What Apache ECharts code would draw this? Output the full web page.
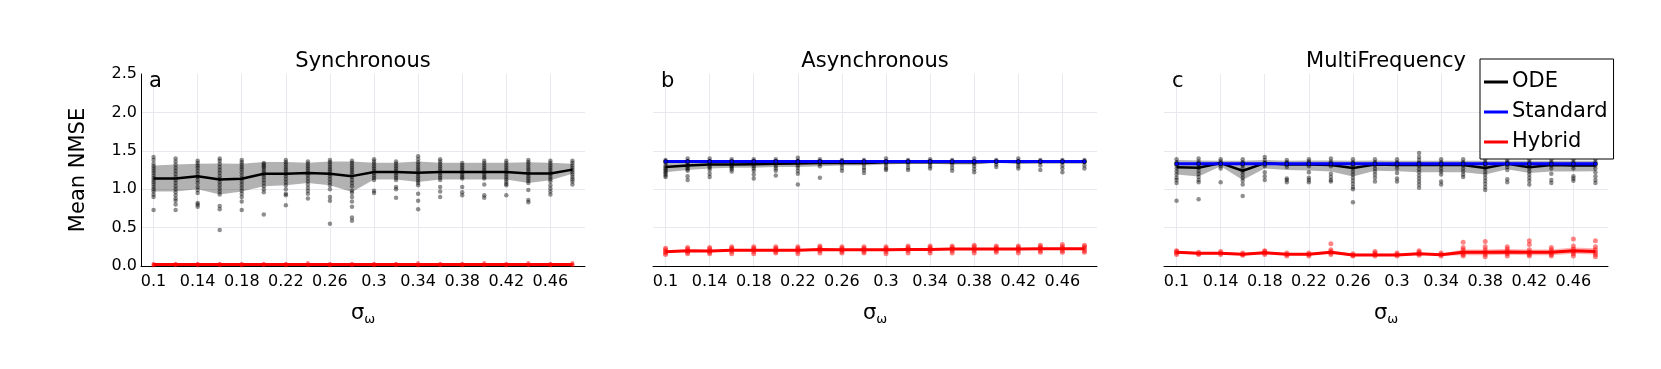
<!DOCTYPE html>
<html>
<head>
<meta charset="utf-8" />
<title>Mean NMSE vs sigma</title>
<script src="https://cdn.jsdelivr.net/npm/echarts@6/dist/echarts.min.js"></script>
<style>
    html, body { margin: 0; padding: 0; background: #fff; }
    #main { width: 1661px; height: 369px; }
</style>
</head>
<body>
<div id="main"></div>
<script>
    // sigma_omega values (x)
    var sigma = [0.1, 0.12, 0.14, 0.16, 0.18, 0.2, 0.22, 0.24, 0.26, 0.28, 0.3, 0.32, 0.34, 0.36, 0.38, 0.4, 0.42, 0.44, 0.46, 0.48];
    var xTicks = [0.1, 0.14, 0.18, 0.22, 0.26, 0.3, 0.34, 0.38, 0.42, 0.46];
    var panelTitles = ['Synchronous', 'Asynchronous', 'MultiFrequency'];
    var panelLetters = ['a', 'b', 'c'];

    // --- a: Synchronous ---
    var syncOdeMean = [1.14, 1.14, 1.17, 1.125, 1.135, 1.2, 1.2, 1.21, 1.2, 1.17, 1.225, 1.225, 1.215, 1.225, 1.225, 1.225, 1.225, 1.205, 1.205, 1.255];
    var syncOdeLow = [0.97, 0.97, 1.0, 0.93, 0.97, 1.04, 1.05, 1.08, 1.05, 0.965, 1.125, 1.125, 1.095, 1.125, 1.125, 1.125, 1.125, 1.08, 1.115, 1.2];
    var syncOdeHigh = [1.31, 1.32, 1.33, 1.335, 1.33, 1.355, 1.355, 1.345, 1.36, 1.36, 1.345, 1.345, 1.36, 1.345, 1.345, 1.345, 1.345, 1.35, 1.345, 1.33];
    var syncOdeSamples = [
        [1.42, 1.38, 1.33, 1.3, 1.27, 1.24, 1.21, 1.18, 1.15, 1.12, 1.09, 1.06, 1.03, 1.0, 0.97, 0.93, 0.9, 0.73],
        [1.4, 1.36, 1.32, 1.28, 1.24, 1.2, 1.16, 1.12, 1.08, 1.04, 1.0, 0.96, 0.92, 0.88, 0.85, 0.8, 0.73],
        [1.37, 1.34, 1.31, 1.28, 1.24, 1.2, 1.16, 1.12, 1.08, 1.03, 0.99, 0.95, 0.82, 0.8, 0.77],
        [1.4, 1.37, 1.33, 1.29, 1.25, 1.21, 1.17, 1.13, 1.09, 1.05, 1.01, 0.97, 0.93, 0.78, 0.74, 0.47],
        [1.38, 1.35, 1.32, 1.29, 1.26, 1.22, 1.18, 1.14, 1.1, 1.06, 1.02, 0.98, 0.94, 0.9, 0.84, 0.73],
        [1.34, 1.32, 1.3, 1.28, 1.25, 1.22, 1.19, 1.16, 1.12, 1.08, 1.04, 1.0, 0.96, 0.67],
        [1.38, 1.35, 1.32, 1.29, 1.26, 1.23, 1.2, 1.17, 1.13, 1.09, 1.05, 1.0, 0.94, 0.92, 0.79],
        [1.36, 1.33, 1.3, 1.27, 1.24, 1.21, 1.18, 1.14, 1.1, 1.06, 1.02, 0.98, 0.94, 0.88],
        [1.38, 1.35, 1.32, 1.29, 1.26, 1.23, 1.2, 1.17, 1.13, 1.09, 1.05, 1.0, 0.9, 0.85, 0.55],
        [1.37, 1.34, 1.31, 1.28, 1.25, 1.22, 1.19, 1.16, 1.12, 1.08, 1.04, 0.98, 0.95, 0.9, 0.84, 0.77, 0.63, 0.59],
        [1.39, 1.36, 1.33, 1.3, 1.27, 1.24, 1.21, 1.18, 1.15, 1.12, 0.98, 0.95],
        [1.36, 1.33, 1.3, 1.27, 1.24, 1.21, 1.18, 1.15, 1.12, 1.03, 1.0, 0.89],
        [1.43, 1.39, 1.35, 1.32, 1.29, 1.26, 1.23, 1.2, 1.17, 1.14, 1.11, 1.08, 1.05, 0.94, 0.85, 0.74],
        [1.39, 1.36, 1.33, 1.3, 1.27, 1.24, 1.21, 1.18, 1.15, 1.12, 1.03, 0.97, 0.9],
        [1.34, 1.31, 1.28, 1.25, 1.22, 1.19, 1.16, 1.14, 1.03, 0.96, 0.92],
        [1.37, 1.34, 1.31, 1.28, 1.25, 1.22, 1.19, 1.16, 1.14, 1.06, 0.92, 0.89],
        [1.37, 1.34, 1.31, 1.28, 1.25, 1.22, 1.19, 1.16, 1.13, 1.1, 1.07, 1.05, 0.92],
        [1.38, 1.35, 1.32, 1.29, 1.26, 1.23, 1.2, 1.17, 1.14, 1.11, 1.08, 0.99, 0.86, 0.83],
        [1.37, 1.34, 1.31, 1.28, 1.25, 1.22, 1.19, 1.16, 1.13, 1.1, 1.05, 1.01, 0.97, 0.93],
        [1.37, 1.34, 1.31, 1.28, 1.25, 1.22, 1.19, 1.16, 1.13, 1.1, 1.06]
    ];
    var syncHybMean = [0.02, 0.02, 0.02, 0.02, 0.02, 0.02, 0.02, 0.02, 0.02, 0.02, 0.02, 0.02, 0.02, 0.02, 0.02, 0.02, 0.02, 0.02, 0.02, 0.02];
    var syncHybSamples = [
        [0.005, 0.015, 0.03], [0.01, 0.02, 0.03], [0.005, 0.02, 0.03], [0.01, 0.02, 0.03], [0.005, 0.015, 0.03],
        [0.01, 0.02, 0.03], [0.005, 0.02, 0.03], [0.01, 0.02, 0.04], [0.005, 0.015, 0.03], [0.01, 0.02, 0.03],
        [0.005, 0.02, 0.03], [0.01, 0.02, 0.03], [0.005, 0.015, 0.04], [0.01, 0.02, 0.03], [0.005, 0.02, 0.03],
        [0.01, 0.02, 0.04], [0.005, 0.015, 0.03], [0.01, 0.02, 0.04], [0.005, 0.02, 0.03], [0.01, 0.02, 0.04]
    ];

    // --- b: Asynchronous ---
    var asyncOdeMean = [1.29, 1.31, 1.32, 1.32, 1.325, 1.33, 1.335, 1.34, 1.34, 1.34, 1.35, 1.35, 1.355, 1.35, 1.35, 1.36, 1.355, 1.355, 1.355, 1.355];
    var asyncOdeLow = [1.22, 1.25, 1.27, 1.28, 1.28, 1.29, 1.29, 1.3, 1.31, 1.31, 1.32, 1.33, 1.33, 1.32, 1.32, 1.34, 1.33, 1.34, 1.34, 1.34];
    var asyncOdeHigh = [1.35, 1.37, 1.37, 1.37, 1.37, 1.37, 1.38, 1.37, 1.37, 1.37, 1.37, 1.37, 1.37, 1.37, 1.38, 1.37, 1.37, 1.37, 1.37, 1.37];
    var asyncOdeSamples = [
        [1.38, 1.33, 1.3, 1.28, 1.26, 1.24, 1.22, 1.2, 1.18, 1.16],
        [1.4, 1.36, 1.33, 1.3, 1.28, 1.26, 1.24, 1.17, 1.12],
        [1.4, 1.36, 1.33, 1.3, 1.28, 1.25, 1.2, 1.16],
        [1.39, 1.35, 1.32, 1.3, 1.28, 1.26, 1.23],
        [1.39, 1.36, 1.33, 1.3, 1.27, 1.24, 1.19, 1.14],
        [1.39, 1.36, 1.33, 1.3, 1.27, 1.24, 1.18],
        [1.41, 1.37, 1.34, 1.31, 1.28, 1.24, 1.2, 1.06],
        [1.39, 1.36, 1.33, 1.3, 1.15],
        [1.38, 1.35, 1.32, 1.28, 1.24],
        [1.38, 1.35, 1.32, 1.28, 1.25, 1.21],
        [1.4, 1.36, 1.33, 1.3, 1.27, 1.25],
        [1.38, 1.35, 1.32, 1.28, 1.25],
        [1.39, 1.36, 1.33, 1.3, 1.27],
        [1.38, 1.35, 1.32, 1.28, 1.24],
        [1.4, 1.36, 1.33, 1.3, 1.26, 1.22],
        [1.38, 1.35, 1.32, 1.29],
        [1.4, 1.36, 1.33, 1.3, 1.27],
        [1.38, 1.35, 1.31, 1.25],
        [1.38, 1.35, 1.31, 1.27, 1.22],
        [1.38, 1.35, 1.31, 1.27]
    ];
    var asyncStdMean = [1.36, 1.36, 1.36, 1.36, 1.36, 1.36, 1.36, 1.36, 1.36, 1.36, 1.36, 1.36, 1.36, 1.36, 1.36, 1.36, 1.36, 1.36, 1.36, 1.36];
    var asyncHybMean = [0.185, 0.2, 0.195, 0.205, 0.205, 0.205, 0.205, 0.215, 0.21, 0.21, 0.21, 0.215, 0.215, 0.22, 0.22, 0.22, 0.22, 0.225, 0.225, 0.225];
    var asyncHybLow = [0.175, 0.19, 0.185, 0.195, 0.195, 0.195, 0.195, 0.205, 0.2, 0.2, 0.2, 0.205, 0.205, 0.21, 0.21, 0.21, 0.21, 0.215, 0.215, 0.215];
    var asyncHybHigh = [0.195, 0.21, 0.205, 0.215, 0.215, 0.215, 0.215, 0.225, 0.22, 0.22, 0.22, 0.225, 0.225, 0.23, 0.23, 0.23, 0.23, 0.235, 0.235, 0.235];
    var asyncHybSamples = [
        [0.15, 0.17, 0.19, 0.21, 0.23], [0.16, 0.18, 0.2, 0.22, 0.24], [0.16, 0.18, 0.2, 0.22, 0.24],
        [0.16, 0.19, 0.21, 0.23, 0.25], [0.16, 0.19, 0.21, 0.23, 0.25], [0.17, 0.19, 0.21, 0.23, 0.25],
        [0.16, 0.19, 0.21, 0.23, 0.25], [0.17, 0.2, 0.22, 0.24, 0.26], [0.17, 0.19, 0.21, 0.23, 0.25],
        [0.17, 0.19, 0.21, 0.23, 0.25], [0.16, 0.19, 0.21, 0.23, 0.25], [0.17, 0.2, 0.22, 0.24, 0.26],
        [0.17, 0.2, 0.22, 0.24, 0.26], [0.17, 0.2, 0.22, 0.24, 0.26], [0.17, 0.2, 0.22, 0.25, 0.27],
        [0.18, 0.2, 0.22, 0.24, 0.26], [0.17, 0.2, 0.22, 0.24, 0.26], [0.18, 0.2, 0.23, 0.25, 0.27],
        [0.18, 0.2, 0.23, 0.25, 0.28], [0.18, 0.2, 0.23, 0.25, 0.27]
    ];

    // --- c: MultiFrequency ---
    var multiOdeMean = [1.285, 1.28, 1.34, 1.24, 1.34, 1.32, 1.32, 1.315, 1.275, 1.32, 1.315, 1.315, 1.315, 1.315, 1.275, 1.33, 1.285, 1.315, 1.31, 1.31];
    var multiOdeLow = [1.19, 1.165, 1.3, 1.12, 1.27, 1.25, 1.245, 1.23, 1.165, 1.24, 1.235, 1.22, 1.22, 1.22, 1.19, 1.26, 1.21, 1.23, 1.23, 1.235];
    var multiOdeHigh = [1.38, 1.375, 1.37, 1.37, 1.38, 1.37, 1.375, 1.375, 1.37, 1.375, 1.37, 1.37, 1.37, 1.37, 1.37, 1.37, 1.37, 1.37, 1.37, 1.37];
    var multiOdeSamples = [
        [1.39, 1.35, 1.31, 1.27, 1.23, 1.19, 1.15, 1.12, 1.08, 0.85],
        [1.4, 1.36, 1.32, 1.28, 1.24, 1.2, 1.16, 1.12, 1.09, 0.87],
        [1.39, 1.36, 1.33, 1.3, 1.27, 1.09],
        [1.39, 1.35, 1.31, 1.27, 1.23, 1.19, 1.15, 1.11, 1.06, 0.91],
        [1.42, 1.38, 1.34, 1.3, 1.22, 1.17, 1.12],
        [1.38, 1.35, 1.32, 1.29, 1.14, 1.12, 1.09],
        [1.39, 1.36, 1.33, 1.3, 1.22, 1.15, 1.12, 1.09],
        [1.4, 1.36, 1.33, 1.3, 1.2, 1.16, 1.12, 1.1],
        [1.39, 1.35, 1.31, 1.27, 1.23, 1.19, 1.15, 1.11, 1.07, 1.03, 1.0, 0.83],
        [1.39, 1.35, 1.31, 1.27, 1.23, 1.19, 1.15, 1.1],
        [1.39, 1.35, 1.31, 1.27, 1.21, 1.14, 1.1],
        [1.47, 1.42, 1.38, 1.34, 1.3, 1.26, 1.22, 1.18, 1.14, 1.1, 1.06, 1.02],
        [1.39, 1.35, 1.31, 1.27, 1.23, 1.19, 1.1, 1.06],
        [1.39, 1.35, 1.31, 1.27, 1.23, 1.19, 1.16],
        [1.39, 1.35, 1.31, 1.27, 1.23, 1.19, 1.15, 1.11, 1.07, 1.03, 0.99],
        [1.38, 1.35, 1.32, 1.29, 1.25, 1.13, 1.09],
        [1.39, 1.35, 1.31, 1.27, 1.23, 1.19, 1.15, 1.11, 1.06],
        [1.39, 1.35, 1.31, 1.27, 1.2, 1.12, 1.08],
        [1.39, 1.35, 1.31, 1.27, 1.17, 1.14, 1.11],
        [1.39, 1.35, 1.31, 1.27, 1.22, 1.17, 1.12, 1.08]
    ];
    var multiStdMean = [1.33, 1.33, 1.33, 1.33, 1.33, 1.33, 1.33, 1.33, 1.33, 1.33, 1.33, 1.33, 1.33, 1.33, 1.33, 1.33, 1.33, 1.33, 1.33, 1.33];
    var multiHybMean = [0.178, 0.165, 0.165, 0.152, 0.174, 0.152, 0.152, 0.178, 0.143, 0.143, 0.143, 0.16, 0.147, 0.178, 0.178, 0.183, 0.178, 0.178, 0.2, 0.19];
    var multiHybLow = [0.16, 0.15, 0.15, 0.14, 0.155, 0.14, 0.14, 0.16, 0.13, 0.13, 0.13, 0.145, 0.135, 0.14, 0.14, 0.145, 0.14, 0.14, 0.16, 0.15];
    var multiHybHigh = [0.195, 0.18, 0.18, 0.165, 0.19, 0.165, 0.165, 0.2, 0.16, 0.16, 0.16, 0.175, 0.16, 0.215, 0.215, 0.22, 0.215, 0.215, 0.24, 0.23];
    var multiHybSamples = [
        [0.15, 0.17, 0.19, 0.2], [0.15, 0.16, 0.18], [0.15, 0.17, 0.19], [0.14, 0.15, 0.17], [0.15, 0.17, 0.19, 0.2],
        [0.13, 0.15, 0.17], [0.13, 0.15, 0.17], [0.15, 0.17, 0.19, 0.21, 0.29], [0.13, 0.14, 0.16], [0.13, 0.15, 0.17, 0.19],
        [0.13, 0.15, 0.17], [0.14, 0.16, 0.18, 0.2], [0.13, 0.15, 0.17], [0.13, 0.15, 0.18, 0.21, 0.24, 0.31],
        [0.12, 0.15, 0.18, 0.21, 0.25, 0.32], [0.13, 0.16, 0.19, 0.22, 0.25], [0.13, 0.15, 0.18, 0.21, 0.28, 0.33],
        [0.13, 0.15, 0.18, 0.21, 0.24], [0.13, 0.16, 0.19, 0.22, 0.26, 0.35], [0.12, 0.15, 0.18, 0.21, 0.25, 0.33]
    ];

    var FONT = 'DejaVu Sans';
    var gridLefts = [141, 653, 1164];
    var gridWidth = 444;

    function pairs(vals) {
        return sigma.map(function (s, i) { return [s, vals[i]]; });
    }
    function samplePairs(samples) {
        var out = [];
        samples.forEach(function (arr, i) {
            arr.forEach(function (v) { out.push([sigma[i], v]); });
        });
        return out;
    }
    function band(idx, low, high, color) {
        return {
            type: 'custom', xAxisIndex: idx, yAxisIndex: idx, silent: true, z: 1,
            data: [[sigma[0], low[0]]],
            renderItem: function (params, api) {
                var top = sigma.map(function (s, i) { return api.coord([s, high[i]]); });
                var bot = sigma.map(function (s, i) { return api.coord([s, low[i]]); }).reverse();
                return { type: 'polygon', shape: { points: top.concat(bot) }, style: { fill: color } };
            }
        };
    }
    function dots(idx, samples, color, size) {
        return {
            type: 'scatter', xAxisIndex: idx, yAxisIndex: idx, silent: true, z: 2,
            data: samplePairs(samples), symbolSize: size,
            itemStyle: { color: color }
        };
    }
    function line(idx, name, vals, color, width, z, marker) {
        return {
            type: 'line', name: name, xAxisIndex: idx, yAxisIndex: idx, z: z,
            data: pairs(vals),
            showSymbol: !!marker, symbol: 'circle', symbolSize: 4,
            color: color,
            itemStyle: marker ? { color: color, borderColor: 'rgba(0,0,0,0.7)', borderWidth: 1 } : { color: color },
            lineStyle: { color: color, width: width }
        };
    }

    var myChart = echarts.init(document.getElementById('main'));

    var grids = [], xAxes = [], yAxes = [], titles = [];
    for (var k = 0; k < 3; k++) {
        grids.push({ left: gridLefts[k], width: gridWidth, top: 74, height: 192 });
        xAxes.push({
            type: 'value', gridIndex: k, min: 0.0886, max: 0.4914,
            name: '{a|σ}{b|ω}', nameLocation: 'middle', nameGap: 36,
            nameTextStyle: {
                rich: {
                    a: { fontFamily: FONT, fontSize: 21, color: '#000', lineHeight: 24, verticalAlign: 'middle' },
                    b: { fontFamily: FONT, fontSize: 13, color: '#000', lineHeight: 14, padding: [10, 0, 0, 0], verticalAlign: 'bottom' }
                }
            },
            axisLine: { show: true, onZero: false, lineStyle: { color: '#000', width: 1 } },
            axisTick: { show: false, customValues: xTicks },
            axisLabel: {
                customValues: xTicks, margin: 8, fontFamily: FONT, fontSize: 16, color: '#000',
                formatter: function (v) { return String(+v.toFixed(2)); }
            },
            splitLine: { show: true, lineStyle: { color: '#e8e8ee', width: 1 } }
        });
        yAxes.push({
            type: 'value', gridIndex: k, min: 0, max: 2.5, interval: 0.5,
            name: k === 0 ? 'Mean NMSE' : '', nameLocation: 'middle', nameGap: 52,
            nameTextStyle: { fontFamily: FONT, fontSize: 21, color: '#000' },
            axisLine: { show: k === 0, lineStyle: { color: '#000', width: 1 } },
            axisTick: { show: false },
            axisLabel: {
                show: k === 0, margin: 4, fontFamily: FONT, fontSize: 16, color: '#000',
                formatter: function (v) { return v.toFixed(1); }
            },
            splitLine: { show: true, showMaxLine: false, lineStyle: { color: '#e8e8ee', width: 1 } }
        });
        titles.push({
            text: panelTitles[k], left: gridLefts[k] + gridWidth / 2, top: 51, textAlign: 'center', padding: 0,
            textStyle: { fontFamily: FONT, fontSize: 21, fontWeight: 'normal', color: '#000' }
        });
        titles.push({
            text: panelLetters[k], left: gridLefts[k] + 8, top: 71, padding: 0,
            textStyle: { fontFamily: FONT, fontSize: 21, fontWeight: 'normal', color: '#000' }
        });
    }

    var GRAY_BAND = 'rgba(0,0,0,0.3)';
    var GRAY_DOT = 'rgba(0,0,0,0.55)';
    var RED_BAND = 'rgba(255,0,0,0.3)';
    var RED_DOT = 'rgba(255,0,0,0.6)';

    var series = [
        // a
        band(0, syncOdeLow, syncOdeHigh, GRAY_BAND),
        dots(0, syncOdeSamples, GRAY_DOT, 4.5),
        line(0, 'ODE', syncOdeMean, '#000000', 2.5, 3),
        dots(0, syncHybSamples, RED_DOT, 4),
        line(0, 'Hybrid', syncHybMean, '#ff0000', 3, 5),
        // b
        band(1, asyncOdeLow, asyncOdeHigh, GRAY_BAND),
        dots(1, asyncOdeSamples, GRAY_DOT, 4.5),
        line(1, 'ODE', asyncOdeMean, '#000000', 2.5, 3),
        line(1, 'Standard', asyncStdMean, '#0000ff', 3, 4, true),
        band(1, asyncHybLow, asyncHybHigh, RED_BAND),
        dots(1, asyncHybSamples, RED_DOT, 5),
        line(1, 'Hybrid', asyncHybMean, '#ff0000', 3, 5),
        // c
        band(2, multiOdeLow, multiOdeHigh, GRAY_BAND),
        dots(2, multiOdeSamples, GRAY_DOT, 4.5),
        line(2, 'ODE', multiOdeMean, '#000000', 2.5, 3),
        line(2, 'Standard', multiStdMean, '#0000ff', 3, 4, true),
        band(2, multiHybLow, multiHybHigh, RED_BAND),
        dots(2, multiHybSamples, RED_DOT, 5),
        line(2, 'Hybrid', multiHybMean, '#ff0000', 3, 5)
    ];

    var option = {
        animation: false,
        backgroundColor: '#ffffff',
        title: titles,
        grid: grids,
        xAxis: xAxes,
        yAxis: yAxes,
        legend: {
            orient: 'vertical', left: 1480, top: 59, selectedMode: false,
            backgroundColor: '#ffffff', borderColor: '#000', borderWidth: 1, borderRadius: 0,
            padding: [12, 6, 6, 4], itemWidth: 24, itemHeight: 3, itemGap: 8,
            icon: 'rect',
            textStyle: { fontFamily: FONT, fontSize: 21, color: '#000', lineHeight: 22, padding: [0, 0, 0, -1] },
            data: [
                { name: 'ODE', itemStyle: { color: '#000000', borderWidth: 0 } },
                { name: 'Standard', itemStyle: { color: '#0000ff', borderWidth: 0 } },
                { name: 'Hybrid', itemStyle: { color: '#ff0000', borderWidth: 0 } }
            ]
        },
        series: series
    };
    myChart.setOption(option);
</script>
</body>
</html>
